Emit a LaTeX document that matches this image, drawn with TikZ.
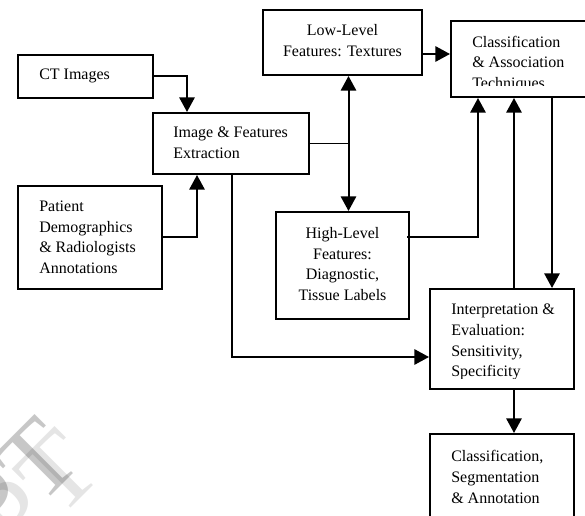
\documentclass[tikz,border=0pt]{standalone}
\usepackage{fontspec}
\setmainfont{Liberation Serif}
\usetikzlibrary{fit,calc,arrows.meta}
\begin{document}
\begin{tikzpicture}[x=0.75pt,y=-0.75pt,
  box/.style={draw,line width=1.5pt,inner sep=0pt,rectangle},
  txt/.style={inner sep=0pt,font=\fontsize{12}{15.5}\selectfont},
  conn/.style={line width=1.2pt},
  arr/.style={line width=1.5pt,-{Triangle[width=11.5pt,length=11pt]}},
  darr/.style={line width=1.5pt,{Triangle[width=11.5pt,length=11pt]}-{Triangle[width=11.5pt,length=11pt]}},
  wm/.style={font=\fontsize{79}{79}\selectfont, rotate=45, inner sep=0pt, anchor=base east}
]
\useasboundingbox (0,0) rectangle (585,516);
% watermark
\node[wm, text=black, opacity=0.1] (wmb) at (105,474) {PT};
\node[wm, text=black, opacity=0.22] (wma) at (85,462) {PT};
% boxes
\node[box, fit={(18,55) (153,98)}] (ct) {};
\node[box, fit={(153,113) (309,174)}] (ife) {};
\node[box, fit={(18,186) (162,289)}] (pat) {};
\node[box, fit={(263,10) (422,75)}] (low) {};
\node[box, fit={(451,21) (594,97)}] (cat) {};
\node[box, fit={(276,212) (409,319)}] (high) {};
\node[box, fit={(430,289) (574,389)}] (interp) {};
\node[box, fit={(430,434) (574,530)}] (csa) {};
% texts
\node[txt, anchor=base west] (tct) at (39,80) {CT Images};
\node[txt, anchor=base west] (tife) at (173,138) {\begin{tabular}[t]{@{}l@{}}Image \& Features\\Extraction\end{tabular}};
\node[txt, anchor=base west] (tpat) at (39,211.5) {\begin{tabular}[t]{@{}l@{}}Patient\\Demographics\\\& Radiologists\\Annotations\end{tabular}};
\node[txt, anchor=base] (tlow) at (342.5,36) {\begin{tabular}[t]{@{}c@{}}Low-Level\\Features: Textures\end{tabular}};
\node[txt, anchor=base] (thigh) at (342.5,238.5) {\begin{tabular}[t]{@{}c@{}}High-Level\\Features:\\Diagnostic,\\Tissue Labels\end{tabular}};
\begin{scope}
\clip (451,21) rectangle (585,86);
\node[txt, anchor=base west] (tcat) at (472,47.3) {\begin{tabular}[t]{@{}l@{}}Classification\\\& Association\\Techniques\end{tabular}};
\end{scope}
\begin{scope}
\clip (430,289) rectangle (574,378);
\node[txt, anchor=base west] (tint) at (451,315) {\begin{tabular}[t]{@{}l@{}}Interpretation \&\\Evaluation:\\Sensitivity,\\Specificity\end{tabular}};
\end{scope}
\node[txt, anchor=base west] (tcsa) at (451,461.7) {\begin{tabular}[t]{@{}l@{}}Classification,\\Segmentation\\\& Annotation\end{tabular}};
% connectors
\draw[arr] (ct.east) -| ($(ife.north west)+(35,0)$);
\draw[arr] (pat.east) -| ($(ife.south west)+(45,0)$);
\coordinate (vt) at ($(low.south)+(6,0)$);
\coordinate (vb) at ($(high.north)+(6,0)$);
\draw[darr] (vt) -- (vb);
\draw[conn] (ife.east) -- (ife.east -| vt);
\coordinate (lo) at ($(low.east)+(0,11.5)$);
\draw[arr] (lo) -- (lo -| cat.west);
\coordinate (hs) at ($(high.north east)+(-3,26)$);
\draw[arr] (hs) -| ($(cat.south west)+(28,0)$);
\coordinate (iu) at ($(interp.north west)+(85,0)$);
\draw[arr] (iu) -- (iu |- cat.south);
\coordinate (id) at ($(interp.north west)+(123,0)$);
\draw[arr] (id |- cat.south) -- (id);
\coordinate (es) at ($(ife.south west)+(80,0)$);
\coordinate (ie) at ($(interp.west)+(0,18)$);
\draw[arr] (es) |- (ie);
\coordinate (ib) at ($(interp.south west)+(85,0)$);
\draw[arr] (ib) -- (ib |- csa.north);
\end{tikzpicture}
\end{document}
